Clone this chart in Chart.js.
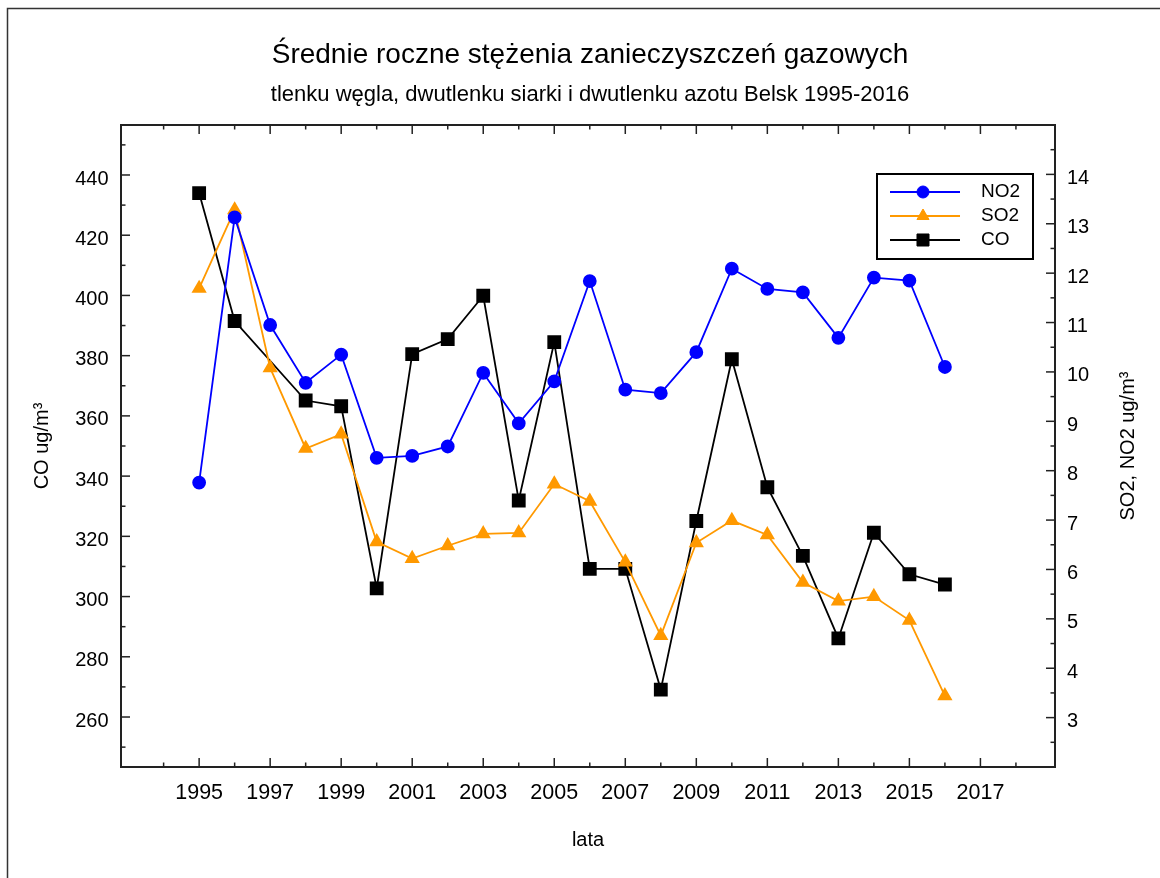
<!DOCTYPE html>
<html>
<head>
<meta charset="utf-8">
<script src="https://cdn.jsdelivr.net/npm/chart.js@4/dist/chart.umd.min.js"></script>
<style>
  html, body { margin: 0; padding: 0; background: #fff; }
  #wrap { width: 1160px; height: 878px; }
</style>
</head>
<body>
<div id="wrap"><canvas id="graph" width="1160" height="878"></canvas></div>
<script>
// dane
const lata = [1995, 1996, 1997, 1998, 1999, 2000, 2001, 2002, 2003, 2004, 2005,
              2006, 2007, 2008, 2009, 2010, 2011, 2012, 2013, 2014, 2015, 2016];
const no2 = [7.76, 13.13, 10.95, 9.78, 10.35, 8.26, 8.30, 8.49, 9.98, 8.96, 9.81,
             11.84, 9.64, 9.57, 10.40, 12.09, 11.68, 11.61, 10.69, 11.91, 11.85, 10.10];
const so2 = [11.69, 13.28, 10.08, 8.45, 8.74, 6.56, 6.22, 6.48, 6.72, 6.74, 7.73,
             7.38, 6.15, 4.66, 6.54, 6.99, 6.70, 5.74, 5.36, 5.45, 4.97, 3.44];
const co = [434.0, 391.5, null, 365.1, 363.2, 302.7, 380.5, 385.5, 399.9, 331.9, 384.5,
            309.2, 309.2, 269.1, 325.1, 378.8, 336.3, 313.5, 286.1, 321.2, 307.4, 304.0];

const etykietyX = [1995, 1997, 1999, 2001, 2003, 2005, 2007, 2009, 2011, 2013, 2015, 2017];
const etykietyCO = [260, 280, 300, 320, 340, 360, 380, 400, 420, 440];
const etykietyPrawe = [3, 4, 5, 6, 7, 8, 9, 10, 11, 12, 13, 14];

const tytul = 'Średnie roczne stężenia zanieczyszczeń gazowych';
const podtytul = 'tlenku węgla, dwutlenku siarki i dwutlenku azotu Belsk 1995-2016';

const FONT = 'Liberation Sans, Arial, sans-serif';

function punkty(vals) {
  return lata.map((r, i) => ({ x: r, y: vals[i] }));
}

function kreska(ctx, x1, y1, x2, y2) {
  ctx.beginPath();
  ctx.moveTo(x1, y1);
  ctx.lineTo(x2, y2);
  ctx.stroke();
}

// ramka, kreski podzialki do srodka, tytul prawej osi i legenda
const ramka = {
  id: 'ramka',
  beforeDraw(chart) {
    const ctx = chart.ctx;
    ctx.save();
    ctx.fillStyle = '#fff';
    ctx.fillRect(0, 0, chart.width, chart.height);
    ctx.restore();
  },
  afterDraw(chart) {
    const ctx = chart.ctx;
    const a = chart.chartArea;
    ctx.save();

    ctx.strokeStyle = '#333';
    ctx.lineWidth = 1.5;
    ctx.strokeRect(7.5, 8.5, 1400, 1000);

    ctx.strokeStyle = '#222';
    ctx.lineWidth = 2;
    ctx.strokeRect(a.left, a.top, a.right - a.left, a.bottom - a.top);

    ctx.lineWidth = 1.5;
    const sx = chart.scales.x;
    sx.ticks.forEach(t => {
      const p = sx.getPixelForValue(t.value);
      const len = t.label ? 9 : 4.5;
      kreska(ctx, p, a.bottom, p, a.bottom - len);
      kreska(ctx, p, a.top, p, a.top + len);
    });
    const sy = chart.scales.y;
    sy.ticks.forEach(t => {
      const p = sy.getPixelForValue(t.value);
      kreska(ctx, a.left, p, a.left + (t.label ? 9 : 4.5), p);
    });
    const sy1 = chart.scales.y1;
    sy1.ticks.forEach(t => {
      const p = sy1.getPixelForValue(t.value);
      kreska(ctx, a.right, p, a.right - (t.label ? 9 : 4.5), p);
    });

    // tytul prawej osi
    ctx.save();
    ctx.translate(1128, (a.top + a.bottom) / 2);
    ctx.rotate(-Math.PI / 2);
    ctx.fillStyle = '#000';
    ctx.font = '20px ' + FONT;
    ctx.textAlign = 'center';
    ctx.textBaseline = 'middle';
    ctx.fillText('SO2, NO2 ug/m³', 0, 0);
    ctx.restore();

    // legenda
    ctx.strokeStyle = '#000';
    ctx.lineWidth = 2;
    ctx.strokeRect(877, 174, 156, 85);
    chart.data.datasets.forEach((ds, i) => {
      const y = 192 + i * 24;
      ctx.strokeStyle = ds.borderColor;
      ctx.lineWidth = ds.borderWidth;
      kreska(ctx, 890, y, 960, y);
      ctx.fillStyle = ds.pointBackgroundColor;
      ctx.strokeStyle = ds.borderColor;
      ctx.lineWidth = 1;
      Chart.helpers.drawPoint(ctx, { pointStyle: ds.pointStyle, radius: ds.pointRadius, rotation: 0, borderWidth: 1 }, 923, y);
      ctx.fillStyle = '#000';
      ctx.font = '19px ' + FONT;
      ctx.textAlign = 'left';
      ctx.textBaseline = 'middle';
      ctx.fillText(ds.label, 981, y);
    });

    ctx.restore();
  }
};

new Chart(document.getElementById('graph'), {
  type: 'line',
  data: {
    datasets: [
      {
        label: 'NO2',
        data: punkty(no2),
        yAxisID: 'y1',
        borderColor: '#0000ff',
        pointBackgroundColor: '#0000ff',
        borderWidth: 1.8,
        pointStyle: 'circle',
        pointRadius: 6,
        tension: 0
      },
      {
        label: 'SO2',
        data: punkty(so2),
        yAxisID: 'y1',
        borderColor: '#ff9900',
        pointBackgroundColor: '#ff9900',
        borderWidth: 1.8,
        pointStyle: 'triangle',
        pointRadius: 7,
        tension: 0
      },
      {
        label: 'CO',
        data: punkty(co),
        yAxisID: 'y',
        borderColor: '#000000',
        pointBackgroundColor: '#000000',
        borderWidth: 1.8,
        pointStyle: 'rect',
        pointRadius: 8.5,
        spanGaps: true,
        tension: 0
      }
    ]
  },
  options: {
    responsive: false,
    devicePixelRatio: 1,
    animation: false,
    layout: { padding: { left: 20, top: 0, right: 0, bottom: 0 } },
    plugins: {
      legend: { display: false },
      tooltip: { enabled: false },
      title: {
        display: true,
        text: tytul,
        color: '#000',
        font: { family: FONT, size: 28, weight: 'normal' },
        padding: { top: 38, bottom: 10 }
      },
      subtitle: {
        display: true,
        text: podtytul,
        color: '#000',
        font: { family: FONT, size: 22, weight: 'normal' },
        padding: { top: 0, bottom: 17 }
      }
    },
    scales: {
      x: {
        type: 'linear',
        min: 1992.8,
        max: 2019.1,
        grid: { display: false, drawTicks: false, tickLength: 0 },
        border: { display: false },
        afterBuildTicks(s) {
          const t = [];
          for (let r = 1994; r <= 2018; r++) t.push({ value: r });
          s.ticks = t;
        },
        ticks: {
          autoSkip: false,
          maxRotation: 0,
          padding: 13,
          color: '#000',
          font: { family: FONT, size: 21.5 },
          callback: v => etykietyX.includes(v) ? String(v) : ''
        },
        title: {
          display: true,
          text: 'lata',
          color: '#000',
          font: { family: FONT, size: 20 },
          padding: { top: 0, bottom: 26 }
        },
        afterFit(s) { s.height = 111; }
      },
      y: {
        position: 'left',
        min: 243.4,
        max: 456.6,
        grid: { display: false, drawTicks: false, tickLength: 0 },
        border: { display: false },
        afterBuildTicks(s) {
          const t = [];
          for (let v = 250; v <= 450; v += 10) t.push({ value: v });
          s.ticks = t;
        },
        ticks: {
          autoSkip: false,
          padding: 12.5,
          labelOffset: 4,
          color: '#000',
          font: { family: FONT, size: 20 },
          callback: v => etykietyCO.includes(v) ? String(v) : ''
        },
        title: {
          display: true,
          text: 'CO ug/m³',
          color: '#000',
          font: { family: FONT, size: 20 },
          padding: { top: 10, bottom: 0 }
        },
        afterFit(s) { s.width = 101; }
      },
      y1: {
        position: 'right',
        min: 2,
        max: 15,
        grid: { display: false, drawTicks: false, tickLength: 0 },
        border: { display: false },
        afterBuildTicks(s) {
          const t = [];
          for (let v = 2.5; v <= 14.5; v += 0.5) t.push({ value: v });
          s.ticks = t;
        },
        ticks: {
          autoSkip: false,
          padding: 12,
          labelOffset: 4,
          color: '#000',
          font: { family: FONT, size: 20 },
          callback: v => etykietyPrawe.includes(v) ? String(v) : ''
        },
        afterFit(s) { s.width = 105; }
      }
    }
  },
  plugins: [ramka]
});
</script>
</body>
</html>
